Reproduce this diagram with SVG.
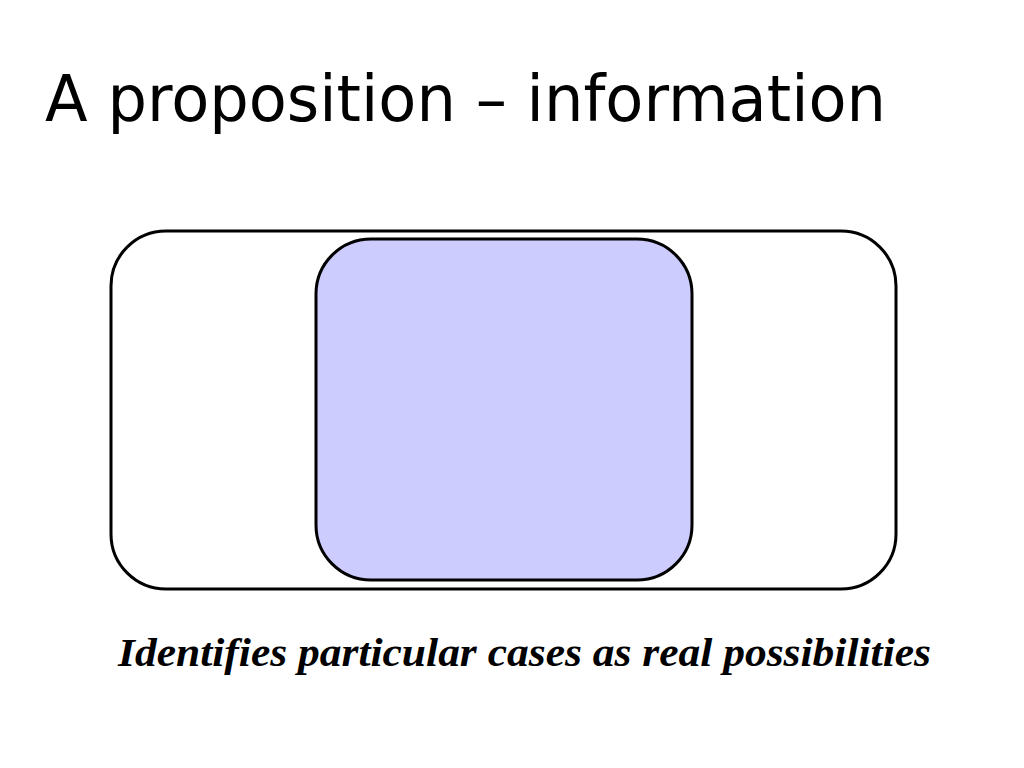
<svg xmlns="http://www.w3.org/2000/svg" width="1024" height="768" viewBox="0 0 1024 768">
<style>
.box{stroke:#000;stroke-width:3}
.title{font-family:"DejaVu Sans",sans-serif;font-size:64px;fill:#000}
.cap{font-family:"Liberation Serif",serif;font-style:italic;font-weight:bold;font-size:40px;fill:#000}
</style>
<rect width="1024" height="768" fill="#fff"/>
<text class="title" x="45" y="121" textLength="841" lengthAdjust="spacingAndGlyphs">A proposition – information</text>
<g id="outer"><rect class="box" x="111" y="231" width="785" height="358" rx="55" ry="55" fill="#fff"/></g>
<g id="inner"><rect class="box" x="316" y="239" width="376" height="341" rx="55" ry="55" fill="#ccccff"/></g>
<g id="connectors"/>
<text class="cap" x="118" y="666" textLength="813" lengthAdjust="spacingAndGlyphs">Identifies particular cases as real possibilities</text>
</svg>
